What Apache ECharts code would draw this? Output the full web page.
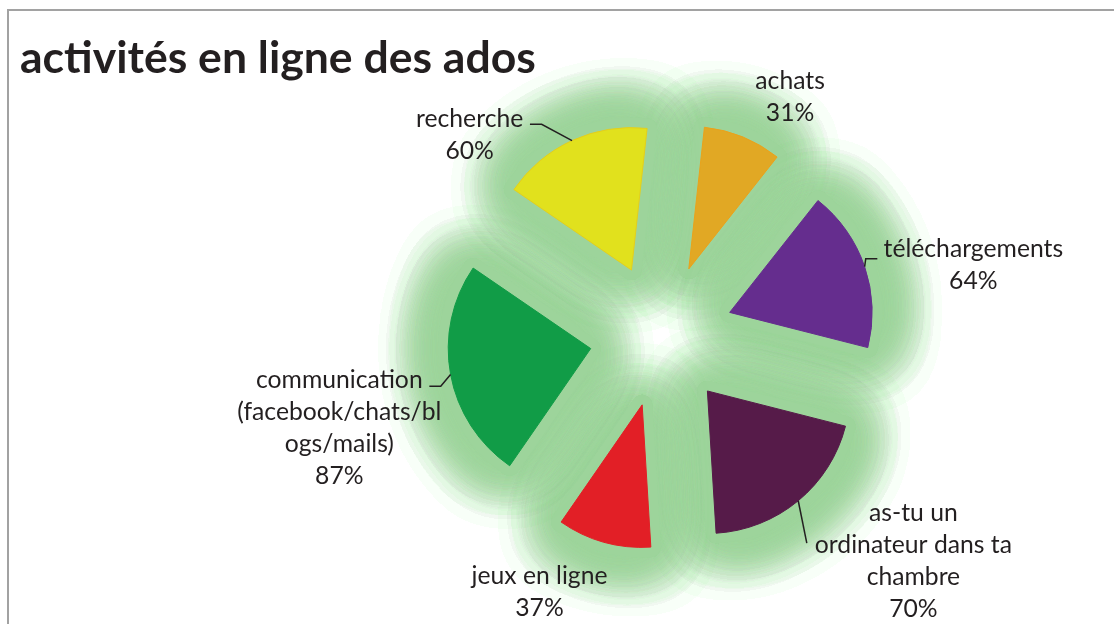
<!DOCTYPE html>
<html><head><meta charset="utf-8">
<script src="https://cdn.jsdelivr.net/npm/echarts@6/dist/echarts.min.js"></script>
<style>html,body{margin:0;padding:0;background:#fff;overflow:hidden}#c{width:1114px;height:624px}</style>
</head><body><div id="c"></div>
<script>
// ---- data ----
const chartTitle = 'activités en ligne des ados';
const categories = ['achats', 'téléchargements', 'as-tu un\nordinateur dans ta\nchambre', 'jeux en ligne', 'communication\n(facebook/chats/bl\nogs/mails)', 'recherche'];
const values = [31, 64, 70, 37, 87, 60];
const valueSuffix = '%';

// ---- styles / layout ----
const sliceColors = ['#E1A824', '#652D8E', '#561B49', '#E21F26', '#119C47', '#E1E11D'];
const sliceBorders = ['#EBA21A', '#652D8E', '#561B49', '#E21F26', '#119C47', '#E5CF1B'];
const glowColor = 'rgb(157,212,155)';
const textColor = '#231F20';
const FONT = 'Lato';
const CX = 661.5, CY = 335.5, R = 142.5, EXPLODE = 72, FIRST_ANGLE = 6.3;
const GLOW_LAYERS = 7;
// label centre: [angle clockwise from 12 o'clock, distance from pie centre]
const labelPlacement = [[28.3, 271.2], [77.35, 319.6], [131.8, 337.9], [205.4, 284.4], [253.9, 335.3], [316.3, 277.7]];
// leader line points after the slice point, relative to label centre
const leaderPoints = [null, [[-107.6, -6.8], [-96, -6.8]], [[-106.6, -17.5]], null, [[101.4, -42.3], [90, -42.3]], [[72, -10.4], [60.3, -10.4]]];

function fitSize(text, weight, target) {
  const ctx = document.createElement('canvas').getContext('2d');
  ctx.font = weight + ' 100px ' + FONT;
  return 100 * target / ctx.measureText(text).width;
}
const labelSize = fitSize('communication', 'normal', 166.7);
const titleSize = fitSize(chartTitle, 'bold', 516);

const total = values.reduce((a, b) => a + b, 0);
const midAngles = [];
{ let cum = 0; values.forEach(v => { midAngles.push(FIRST_ANGLE + (cum + v / 2) / total * 360); cum += v; }); }
function polar(a, d) { const r = a * Math.PI / 180; return [CX + d * Math.sin(r), CY - d * Math.cos(r)]; }

const baseData = categories.map((c, i) => ({ name: c, value: values[i] }));
const pieBase = {
  type: 'pie', center: [CX, CY], radius: R, startAngle: 90 - FIRST_ANGLE, clockwise: true,
  emphasis: { disabled: true }
};

const series = [];
for (let k = 0; k < GLOW_LAYERS; k++) {
  series.push(Object.assign({}, pieBase, {
    silent: true, z: 1,
    selectedMode: 'multiple', selectedOffset: EXPLODE,
    label: { show: false }, labelLine: { show: false },
    itemStyle: { color: glowColor, borderColor: glowColor, borderWidth: 20, borderJoin: 'round', shadowBlur: 56, shadowColor: glowColor },
    data: baseData.map(d => Object.assign({ selected: true }, d))
  }));
}
series.push(Object.assign({}, pieBase, {
  z: 2, label: { show: false }, labelLine: { show: false },
  selectedMode: 'multiple', selectedOffset: EXPLODE,
  data: baseData.map((d, i) => Object.assign({ selected: true }, d, { itemStyle: { color: sliceColors[i], borderColor: sliceBorders[i], borderWidth: 1 } }))
}));
// label layer (transparent slices, not exploded)
series.push(Object.assign({}, pieBase, {
  z: 3, silent: true,
  itemStyle: { color: 'rgba(0,0,0,0)' },
  label: {
    show: true, position: 'outside', formatter: p => p.name + '\n' + p.value + valueSuffix,
    fontFamily: FONT, fontSize: labelSize, lineHeight: 32, color: textColor
  },
  labelLine: { show: true, lineStyle: { color: '#231F20', width: 1.5 } },
  labelLayout: function (p) {
    const i = p.dataIndex;
    const c = polar(labelPlacement[i][0], labelPlacement[i][1]);
    const s = polar(midAngles[i], EXPLODE + R);
    const pts = [s];
    if (leaderPoints[i]) leaderPoints[i].forEach(q => pts.push([c[0] + q[0], c[1] + q[1]]));
    while (pts.length < 3) pts.push(pts[pts.length - 1]);
    return { x: c[0], y: c[1], align: 'center', verticalAlign: 'middle', labelLinePoints: pts };
  },
  data: baseData
}));

const chart = echarts.init(document.getElementById('c'), null, { renderer: 'canvas' });
chart.setOption({
  animation: false,
  backgroundColor: '#fff',
  title: {
    text: chartTitle, left: 15, top: 31,
    textStyle: { fontFamily: FONT, fontWeight: 'bold', fontSize: titleSize, color: textColor, lineHeight: titleSize }
  },
  graphic: [{
    type: 'rect', shape: { x: 8, y: 10, width: 1200, height: 800 }, z: -10,
    style: { fill: 'none', stroke: '#A2A2A2', lineWidth: 2 }, silent: true
  }],
  series: series
});
</script>
</body></html>
